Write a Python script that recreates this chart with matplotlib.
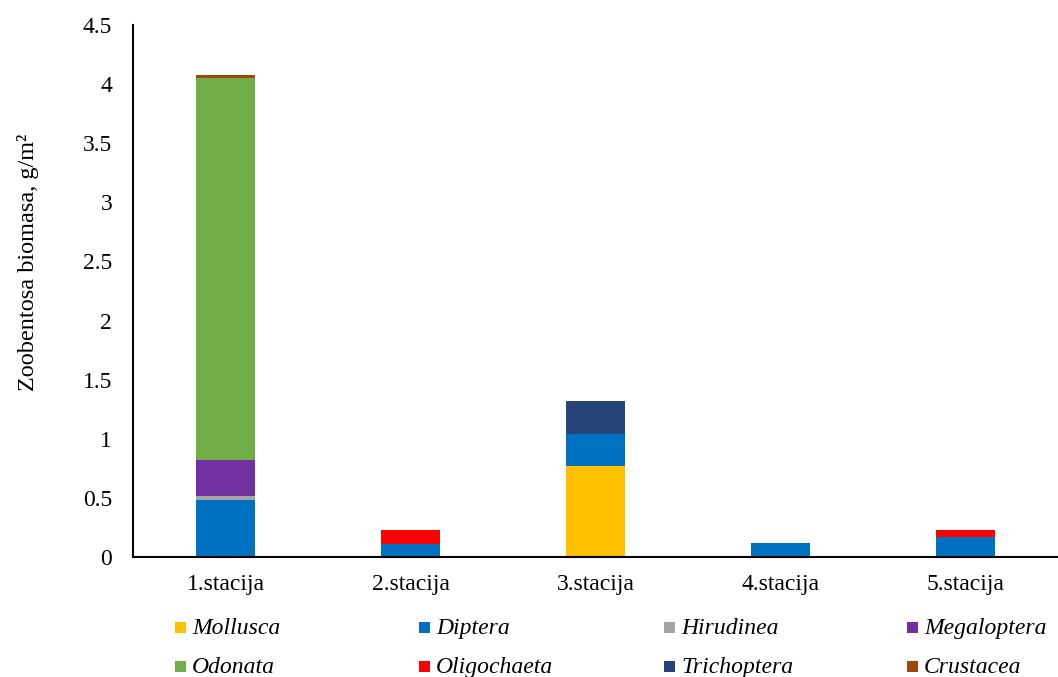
import matplotlib
matplotlib.use("Agg")
import matplotlib.pyplot as plt
from matplotlib.patches import Rectangle
import numpy as np

stations = ["1.stacija", "2.stacija", "3.stacija", "4.stacija", "5.stacija"]
taxa = ["Mollusca", "Diptera", "Hirudinea", "Megaloptera",
        "Odonata", "Oligochaeta", "Trichoptera", "Crustacea"]
colors = ["#FFC000", "#0070C0", "#A5A5A5", "#7030A0",
          "#70AD47", "#FF0000", "#264478", "#9E480E"]

mollusca    = [0.0, 0.0, 0.77, 0.0, 0.0]
diptera     = [0.48, 0.11, 0.27, 0.12, 0.17]
hirudinea   = [0.04, 0.0, 0.0, 0.0, 0.0]
megaloptera = [0.30, 0.0, 0.0, 0.0, 0.0]
odonata     = [3.23, 0.0, 0.0, 0.0, 0.0]
oligochaeta = [0.0, 0.12, 0.0, 0.0, 0.06]
trichoptera = [0.0, 0.0, 0.28, 0.0, 0.0]
crustacea   = [0.025, 0.0, 0.0, 0.0, 0.0]

series = [mollusca, diptera, hirudinea, megaloptera,
          odonata, oligochaeta, trichoptera, crustacea]

plt.rcParams['font.family'] = ['Liberation Serif', 'DejaVu Serif']

W, H = 1058, 677
fig = plt.figure(figsize=(W/100, H/100), dpi=100)
ax = fig.add_axes([133/W, 1 - 557/H, (W-133)/W, (557-25)/H])

x = np.arange(len(stations))
bottom = np.zeros(len(stations))
for name, vals, c in zip(taxa, series, colors):
    vals = np.array(vals)
    ax.bar(x, vals, width=0.315, bottom=bottom, color=c, label=name)
    bottom += vals

ax.set_xlim(-0.5, 4.5)
ax.set_ylim(0, 4.5)
ax.set_yticks(np.arange(0, 4.51, 0.5))
ax.set_yticklabels(["0", "0.5", "1", "1.5", "2", "2.5", "3", "3.5", "4", "4.5"])
ax.set_xticks(x)
ax.set_xticklabels(stations)
ax.tick_params(axis='both', length=0, labelsize=17, colors='black')
ax.tick_params(axis='x', pad=12)
ax.tick_params(axis='y', pad=15)
for s in ['top', 'right']:
    ax.spines[s].set_visible(False)
for s in ['left', 'bottom']:
    ax.spines[s].set_linewidth(1.5)
    ax.spines[s].set_color('black')
ax.set_ylabel("Zoobentosa biomasa, g/m\u00b2", fontsize=17.5)
ax.yaxis.set_label_coords((39-133)/925, (557-262)/532)

# Legend laid out row-major like the reference (4 columns, 2 rows)
col_x = [175, 419, 664, 907]
row_y = [627, 666]
sq = 11
for i, (name, c) in enumerate(zip(taxa, colors)):
    r, k = divmod(i, 4)
    px, py = col_x[k], row_y[r]
    fig.patches.append(Rectangle((px/W, 1 - (py + sq/2)/H), sq/W, sq/H,
                                 transform=fig.transFigure, facecolor=c,
                                 edgecolor='none'))
    fig.text((px + sq + 6)/W, 1 - (py + 7)/H, name, fontsize=17, style='italic',
             va='baseline', ha='left')

fig.savefig("out.png", dpi=100)
